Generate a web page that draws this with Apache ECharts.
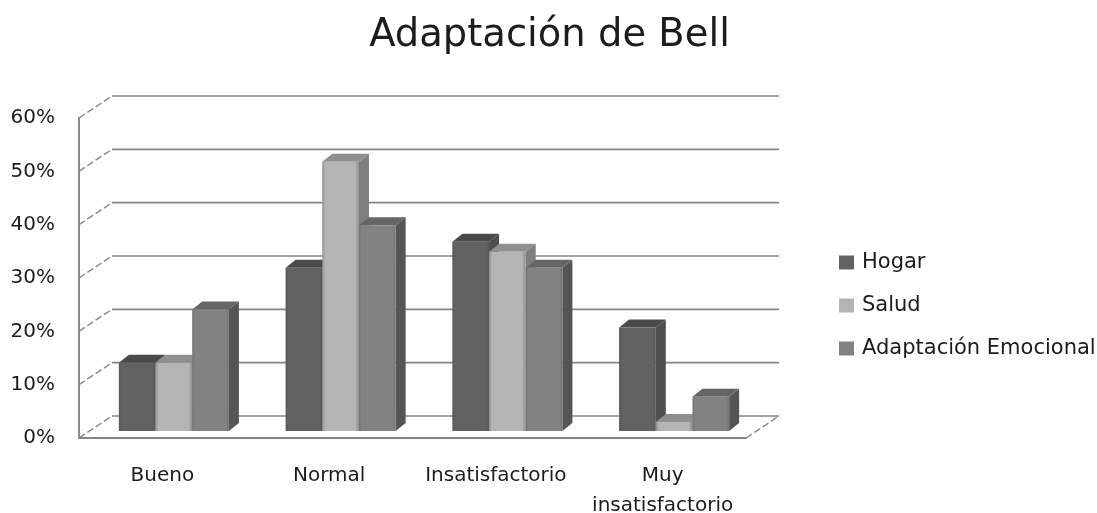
<!DOCTYPE html>
<html><head><meta charset="utf-8">
<script src="https://cdn.jsdelivr.net/npm/echarts@6/dist/echarts.min.js"></script>
<style>html,body{margin:0;padding:0;background:#fff}#c{width:1097px;height:513px}</style>
</head><body><div id="c"></div>
<script>
const categories = ['Bueno', 'Normal', 'Insatisfactorio', 'Muy\ninsatisfactorio'];
const hogar = [12.8, 30.6, 35.5, 19.4];
const salud = [12.8, 50.5, 33.6, 1.7];
const emocional = [22.8, 38.6, 30.6, 6.4];
const ticks = [0, 10, 20, 30, 40, 50, 60];
const font = '"DejaVu Sans", sans-serif';
const ink = '#1c1c1c';

const palette = [
  {name:'Hogar', data:hogar, edge:'#585858', front:'#626262', side:'#4e4e4e', top:'#4a4a4a'},
  {name:'Salud', data:salud, edge:'#8e8e8e', front:'#b4b4b4', side:'#7f7f7f', top:'#8f8f8f'},
  {name:'Adaptación Emocional', data:emocional, edge:'#747474', front:'#828282', side:'#555555', top:'#666666'}
];

function barSeries(s, idx) {
  return {
    name: s.name, type: 'custom', z: 5 + idx,
    itemStyle: {color: s.front},
    encode: {x: 0, y: 1},
    data: s.data.map((v, i) => [i, v]),
    renderItem(params, api) {
      const band = api.size([1, 0])[0];
      const w = band * 0.22;
      const p = api.coord([api.value(0), api.value(1)]);
      const b = api.coord([api.value(0), 0]);
      const sx = 11.5, sy = -7;          // bar plane inside the floor
      const dx = 10, dy = -8;            // bar depth
      const x0 = p[0] + sx + (idx - 1) * w - w / 2, x1 = x0 + w;
      const yT = p[1] + sy, yB = b[1] + sy;
      const grad = {type:'linear', x:0, y:0, x2:1, y2:0, colorStops:[
        {offset:0, color:s.edge},{offset:0.08, color:s.front},{offset:0.9, color:s.front},{offset:1, color:s.edge}]};
      return {type:'group', children:[
        {type:'polygon', shape:{points:[[x1,yT],[x1+dx,yT+dy],[x1+dx,yB+dy],[x1,yB]]}, style:{fill:s.side}},
        {type:'polygon', shape:{points:[[x0,yT],[x0+dx,yT+dy],[x1+dx,yT+dy],[x1,yT]]}, style:{fill:s.top}},
        {type:'rect', shape:{x:x0, y:yT, width:w, height:yB-yT}, style:{fill:grad}}
      ]};
    }
  };
}

const wall = {
  type: 'custom', z: 1, silent: true,
  encode: {y: 0},
  data: ticks.map(t => [t]),
  renderItem(params, api) {
    const cs = params.coordSys;
    const y = api.coord([0, api.value(0)])[1];
    const dx = 33, dy = -22;
    const left = cs.x, right = cs.x + cs.width;
    const kids = [
      {type:'line', shape:{x1:left, y1:y, x2:left+dx, y2:y+dy},
        style:{stroke:'#8c8c8c', lineWidth:1.5, lineDash:[7,3]}},
      {type:'line', shape:{x1:left+dx, y1:y+dy, x2:right+dx, y2:y+dy},
        style:{stroke:'#858585', lineWidth:1.6}}
    ];
    if (api.value(0) === 0) {
      kids.push({type:'line', shape:{x1:right, y1:y, x2:right+dx, y2:y+dy},
        style:{stroke:'#8c8c8c', lineWidth:1.5, lineDash:[7,3]}});
    }
    return {type:'group', children:kids};
  }
};

const chart = echarts.init(document.getElementById('c'), null, {renderer:'canvas'});
chart.setOption({
  animation: false,
  backgroundColor: '#fff',
  title: {text:'Adaptación de Bell', left:544.5, textAlign:'center', top:11,
    textStyle:{fontFamily:font, fontSize:38.5, fontWeight:'normal', color:ink}},
  legend: {
    left: 839, top: 252, padding:0, orient:'vertical', itemWidth:15, itemHeight:14, itemGap:22,
    icon:'rect', data: palette.map(s => s.name),
    textStyle:{fontFamily:font, fontSize:21, color:ink, padding:[0,0,0,3]}
  },
  grid: {left:79, right:351, top:118, bottom:75, outerBoundsMode:'none'},
  xAxis: {type:'category', data:categories,
    axisTick:{show:false},
    axisLine:{show:true, lineStyle:{color:'#858585', width:2}},
    axisLabel:{fontFamily:font, fontSize:20, color:ink, margin:23, lineHeight:30, interval:0}},
  yAxis: {type:'value', min:0, max:60, interval:10,
    axisTick:{show:false}, splitLine:{show:false},
    axisLine:{show:true, lineStyle:{color:'#8c8c8c', width:2}},
    axisLabel:{fontFamily:font, fontSize:20, color:ink, margin:24, padding:[2,0,0,0], formatter:'{value}%'}},
  series: [wall].concat(palette.map(barSeries))
});
</script></body></html>
